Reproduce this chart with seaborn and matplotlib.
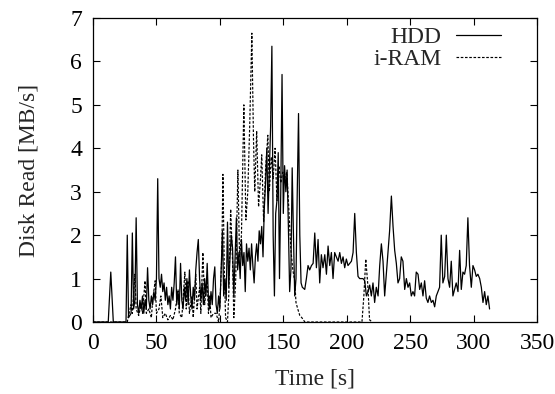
import numpy as np
import pandas as pd
import matplotlib
matplotlib.use("Agg")
import matplotlib.pyplot as plt
import seaborn as sns

# ---------------- data ----------------
hdd_t = [0, 12, 14, 16, 26, 27, 28, 30, 31, 32, 33, 34, 35, 36, 37, 38, 39, 40, 41, 42,
         43, 44, 45, 46, 47, 48, 49, 50, 51, 52, 53, 54, 55, 56, 57, 58, 59, 60, 61, 62,
         63, 64, 65, 66, 67, 68, 69, 70, 71, 72, 73, 74, 75, 76, 77, 78, 79, 80, 81, 82,
         83, 84, 85, 86, 87, 88, 89, 90, 91, 92, 93, 94, 95, 96, 97, 98, 99, 100, 101, 102,
         103, 104, 105, 106, 107, 108, 109, 110, 111, 112, 113, 114, 115, 116, 117, 118, 119, 120, 121, 122,
         123, 124, 125, 126, 127, 128, 129, 130, 131, 132, 133, 134, 135, 136, 137, 138, 139, 140, 141, 142,
         143, 144, 145, 146, 147, 148, 149, 150, 151, 152, 153, 154, 155, 156, 157, 158, 159, 160, 161, 162,
         163, 164, 165,
         166.9, 168.2, 169.5, 170.8, 172.2, 173.5, 174.8, 176.1, 177.4, 178.7, 180.0, 181.3, 182.7, 184.0,
         185.3, 186.6, 187.9, 189.2, 190.5, 191.8, 193.2, 194.5, 195.8, 197.1, 198.4, 199.7, 201.0, 202.3,
         203.7, 205.0, 206.3, 207.6, 208.9, 210.2, 211.5, 212.8, 214.2, 215.5, 216.8, 218.1, 219.4, 220.7,
         222.0, 223.3, 224.7, 226.0, 227.3, 228.6, 229.9, 231.2, 232.5, 233.8, 235.2,
         236.5, 237.8, 239.1, 240.4, 241.7, 243.0, 244.3, 245.7, 247.0, 248.3, 249.6, 250.9, 252.2, 253.5,
         254.8, 256.2, 257.5, 258.8, 260.1, 261.4, 262.7, 264.0, 265.3, 266.7, 268.0, 269.3, 270.6, 271.9,
         273.2, 274.5, 275.8, 277.2, 278.5, 279.8, 281.1, 282.4, 283.7, 285.0, 286.3, 287.7, 289.0, 290.3,
         291.6, 292.9, 294.2, 295.5, 296.8, 298.2, 299.5, 300.8,
         302.1, 303.4, 304.8, 306.1, 307.4, 308.7, 310.0, 311.3, 312.6]
hdd_v = [0, 0, 1.15, 0, 0, 2.0, 0.1, 0.2, 2.05, 0.3, 0.5, 2.4, 0.4, 0.2, 0.5, 0.3, 0.6, 0.2, 0.5, 0.3,
         1.25, 0.5, 0.3, 0.6, 0.4, 0.7, 0.5, 1.0, 3.3, 1.0, 0.8, 1.1, 0.7, 0.9, 0.5, 0.8, 0.4, 0.6, 0.3, 0.8,
         0.5, 0.9, 1.5, 0.4, 0.7, 0.3, 1.35, 0.5, 0.3, 0.8, 0.5, 1.0, 0.4, 1.2, 0.6, 0.3, 0.8, 0.5, 1.2, 1.6,
         1.9, 1.0, 0.5, 0.9, 0.4, 1.0, 0.6, 1.35, 0.5, 0.3, 0.7, 0.4, 1.0, 1.27, 0.4, 0.2, 0.6, 0.3, 1.2, 2.1,
         0.6, 1.0, 0.5, 2.3, 0.8, 1.5, 2.0, 1.7, 0.6, 1.5, 2.4, 1.2, 1.6, 1.0, 1.9, 1.3, 1.6, 0.7, 1.8, 1.4,
         1.7, 1.2, 1.8, 1.3, 0.9, 1.5, 1.8, 1.4, 2.1, 1.8, 2.2, 1.5, 2.6, 3.2, 4.0, 2.5, 3.5, 4.5, 6.35, 2.0,
         0.6, 2.5, 2.8, 3.9, 1.0, 3.0, 5.7, 2.5, 3.6, 3.0, 3.5, 2.2, 0.7, 1.2, 3.55, 2.0, 0.6, 1.0, 3.0, 4.8,
         2.0, 0.9, 0.8,
         0.75, 1.0, 1.3, 1.2, 1.3, 1.35, 2.05, 1.25, 1.9, 0.9, 1.55, 1.25, 1.55, 1.1,
         1.75, 1.3, 1.6, 1.0, 1.6, 1.5, 1.4, 1.6, 1.35, 1.5, 1.25, 1.45, 1.3, 1.35,
         1.4, 1.6, 2.5, 1.6, 1.05, 1.0, 1.0, 1.0, 0.95, 0.6, 0.7, 0.85, 0.6, 0.9,
         0.45, 0.8, 0.6, 1.3, 1.8, 1.4, 0.6, 1.1, 1.6, 2.1, 2.9,
         2.2, 1.65, 1.35, 0.9, 1.0, 1.5, 1.4, 0.75, 1.0, 0.8, 0.9, 0.6, 0.7, 0.6,
         1.15, 1.1, 0.75, 0.9, 0.6, 0.95, 0.55, 0.45, 0.6, 0.45, 0.5, 0.35, 0.6, 0.7,
         0.8, 2.0, 0.9, 1.05, 2.0, 1.0, 0.8, 1.4, 0.6, 0.75, 0.9, 0.7, 1.65, 0.75,
         1.15, 1.1, 1.3, 2.4, 1.3, 0.8, 1.3, 1.2,
         1.05, 1.1, 1.0, 0.8, 0.45, 0.7, 0.4, 0.6, 0.3]

iram_t = [0, 27, 28, 30, 31, 33, 34, 36, 38, 39, 41, 42, 44, 46, 47, 49, 50, 52, 53.5, 55,
          57, 59, 61, 63, 65, 67, 68, 70, 72.4, 73.5, 74.8, 76, 78, 79, 81, 82, 84, 85, 86.6, 88,
          90, 91, 92, 93, 95, 97, 99, 100, 101.5, 102.4, 103.5, 104.5, 106, 107, 108.5, 110, 111, 112.5, 114.2, 115.5,
          117, 118.9, 120.5, 122, 123.5, 125.2, 126.5, 127.5, 129, 130.5, 132, 133, 134.5, 136, 137.8, 139, 140.5, 142, 143.5, 145,
          146.5, 148, 149.5, 151, 152.8, 154, 156, 157.5, 159, 160, 161.4, 163, 164.6, 167, 212, 213.5, 215, 216.5, 218, 220]
iram_v = [0, 0, 0.15, 0.4, 0.2, 1.1, 0.3, 0.15, 0.4, 0.2, 0.95, 0.2, 0.3, 0.1, 0.5, 0.95, 0.2, 0.3, 0.6, 0.1,
          0.2, 0.05, 0.15, 0.05, 0.3, 0.75, 0.2, 0.1, 1.15, 0.3, 0.95, 0.2, 0.6, 0.1, 1.1, 0.3, 0.8, 0.2, 1.6, 0.4,
          1.0, 0.2, 0.6, 0.1, 0.2, 0.2, 0.0, 0.4, 1.5, 3.4, 1.2, 0.1, 0.0, 0.6, 2.6, 1.4, 0.1, 1.0, 3.5, 1.5,
          2.0, 5.0, 2.35, 3.0, 4.5, 6.65, 4.2, 3.0, 4.4, 2.65, 3.3, 3.85, 2.3, 3.5, 4.3, 3.0, 3.8, 3.3, 4.0, 2.8,
          3.6, 3.2, 3.45, 3.3, 3.45, 2.8, 1.65, 1.2, 0.95, 0.45, 0.3, 0.15, 0.1, 0.0, 0.0, 0.6, 1.45, 0.9, 0.05, 0.0]

x_ticks = [0, 50, 100, 150, 200, 250, 300, 350]
y_ticks = [0, 1, 2, 3, 4, 5, 6, 7]
series_labels = ["HDD", "i-RAM"]

# ---------------- plotting ----------------
sns.set_style("ticks")
plt.rcParams["font.family"] = ["Liberation Serif", "DejaVu Serif"]

fig = plt.figure(figsize=(5.55, 3.94), dpi=100)
ax = fig.add_axes([0.1676, 0.1827, 0.8, 0.7716])

df_hdd = pd.DataFrame({"t": hdd_t, "v": hdd_v})
df_iram = pd.DataFrame({"t": iram_t, "v": iram_v})

sns.lineplot(data=df_hdd, x="t", y="v", ax=ax, color="black", lw=0.9,
             estimator=None, sort=False, label=series_labels[0])
sns.lineplot(data=df_iram, x="t", y="v", ax=ax, color="black", lw=0.85,
             estimator=None, sort=False, label=series_labels[1],
             linestyle=(0, (2.2, 1.4)))

ax.set_xlim(0, 350)
ax.set_ylim(0, 7)
ax.set_xticks(x_ticks)
ax.set_yticks(y_ticks)
ax.set_xticklabels([str(v) for v in x_ticks])
ax.set_yticklabels([str(v) for v in y_ticks])
ax.tick_params(direction="in", top=True, right=True, length=5, width=0.8,
               labelsize=17, colors="black", pad=8)
for s in ax.spines.values():
    s.set_visible(True)
    s.set_linewidth(0.9)
    s.set_color("black")

ax.set_xlabel("Time [s]", fontsize=17, labelpad=10)
ax.set_ylabel("Disk Read [MB/s]", fontsize=17, labelpad=22)

leg = ax.legend(loc="upper right", bbox_to_anchor=(0.955, 1.025), frameon=False,
                markerfirst=False, fontsize=17, handlelength=1.9,
                handletextpad=0.6, labelspacing=0.0, borderaxespad=0.3)
for t in leg.get_texts():
    t.set_ha("right")

fig.savefig("out.png", dpi=100)
